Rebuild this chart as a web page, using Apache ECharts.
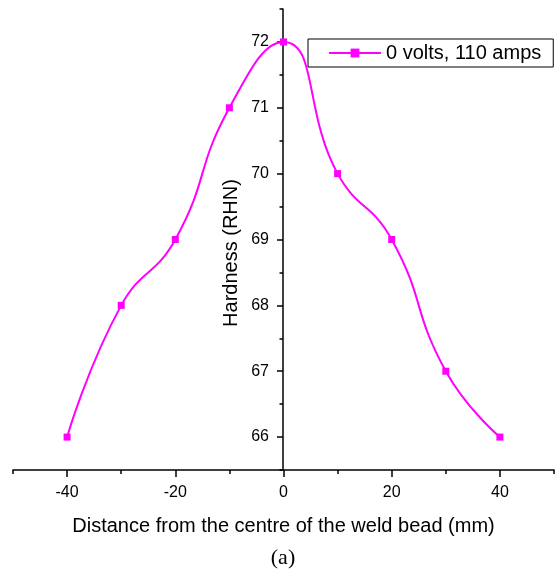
<!DOCTYPE html>
<html>
<head>
<meta charset="utf-8">
<script src="https://cdn.jsdelivr.net/npm/echarts@6/dist/echarts.min.js"></script>
<style>
  html, body { margin: 0; padding: 0; background: #fff; }
  #chart { width: 558px; height: 571px; }
</style>
</head>
<body>
<div id="chart"></div>
<script>
// data
const distance = [-40, -30, -20, -10, 0, 10, 20, 30, 40];
const hardness = [66, 68, 69, 71, 72, 70, 69, 67, 66];
const seriesName = '0 volts, 110 amps';

// tick positions
const xMajorTicks = [-40, -20, 0, 20, 40];
const xMinorTicks = [-50, -30, -10, 10, 30, 50];
const yMajorTicks = [66, 67, 68, 69, 70, 71, 72];
const yMinorTicks = [65.5, 66.5, 67.5, 68.5, 69.5, 70.5, 71.5, 72.5];

const font = '"Liberation Sans", Arial, sans-serif';
const magenta = '#FF00FF';

// y axis sits on x = 0, i.e. 270px right of the grid's left edge
const yAxisOffset = -270;

const chart = echarts.init(document.getElementById('chart'));

const points = distance.map((d, i) => [d, hardness[i]]);

chart.setOption({
    animation: false,
    grid: { left: 13, right: 4, top: 9, bottom: 101, containLabel: false, outerBoundsMode: 'none' },
    legend: {
        data: [seriesName],
        left: 308,
        top: 39,
        padding: [4, 12, 4, 20],
        borderColor: '#000',
        borderWidth: 1,
        itemWidth: 52,
        itemHeight: 11,
        textStyle: { fontFamily: font, fontSize: 20, color: '#000' }
    },
    xAxis: [
        {
            type: 'value',
            min: -50,
            max: 50,
            position: 'bottom',
            name: 'Distance from the centre of the weld bead (mm)',
            nameLocation: 'middle',
            nameGap: 46,
            nameTextStyle: { fontFamily: font, fontSize: 20, color: '#000' },
            axisLine: { onZero: false, lineStyle: { color: '#000', width: 1.5 } },
            axisTick: { customValues: xMajorTicks, length: 7, lineStyle: { color: '#000', width: 1.5 } },
            axisLabel: { customValues: xMajorTicks, margin: 15, fontFamily: font, fontSize: 16, color: '#000' },
            splitLine: { show: false }
        },
        {
            type: 'value',
            min: -50,
            max: 50,
            position: 'bottom',
            axisLine: { show: false, onZero: false },
            axisTick: { customValues: xMinorTicks, length: 4, lineStyle: { color: '#000', width: 1.5 } },
            axisLabel: { show: false },
            splitLine: { show: false }
        }
    ],
    yAxis: [
        {
            type: 'value',
            min: 65.5,
            max: 72.5,
            position: 'left',
            offset: yAxisOffset,
            axisLine: { show: true, onZero: false, lineStyle: { color: '#000', width: 1.5 } },
            axisTick: { show: true, customValues: yMajorTicks, length: 6, lineStyle: { color: '#000', width: 1.5 } },
            axisLabel: { customValues: yMajorTicks, margin: 14, fontFamily: font, fontSize: 16, color: '#000' },
            splitLine: { show: false }
        },
        {
            type: 'value',
            min: 65.5,
            max: 72.5,
            position: 'left',
            offset: yAxisOffset,
            axisLine: { show: false, onZero: false },
            axisTick: { show: true, customValues: yMinorTicks, length: 3.5, lineStyle: { color: '#000', width: 1.5 } },
            axisLabel: { show: false },
            splitLine: { show: false }
        }
    ],
    graphic: [
        {
            type: 'text',
            x: 231,
            y: 253,
            rotation: Math.PI / 2,
            style: {
                text: 'Hardness (RHN)',
                font: '20px ' + font,
                fill: '#000',
                align: 'center',
                verticalAlign: 'middle'
            }
        },
        {
            type: 'text',
            x: 283,
            y: 558,
            style: {
                text: '(a)',
                font: '22px "Liberation Serif", "Times New Roman", serif',
                fill: '#000',
                align: 'center',
                verticalAlign: 'middle'
            }
        }
    ],
    series: [{
        name: seriesName,
        type: 'line',
        xAxisIndex: 0,
        yAxisIndex: 0,
        data: points,
        smooth: 0.5,
        symbol: 'rect',
        symbolSize: 7,
        itemStyle: { color: magenta },
        lineStyle: { color: magenta, width: 2 }
    }]
});
</script>
</body>
</html>
